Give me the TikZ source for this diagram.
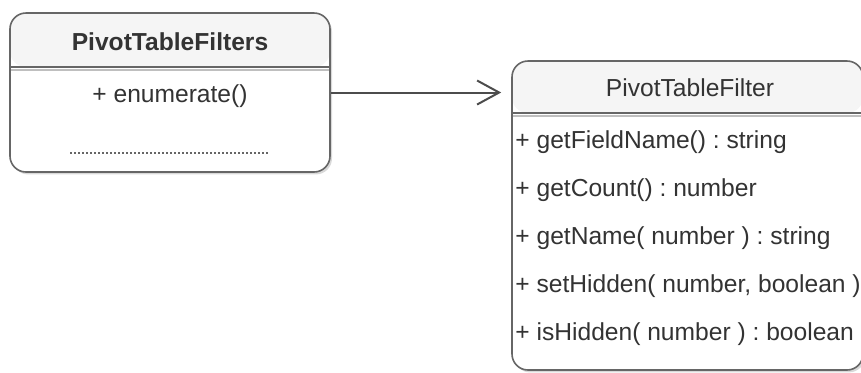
\documentclass[tikz,border=0pt]{standalone}
\usepackage{fontspec}
\setmainfont{Liberation Sans}
\usetikzlibrary{arrows.meta, positioning, shadows}
\definecolor{umlline}{HTML}{666666}
\definecolor{umlhead}{HTML}{F5F5F5}
\definecolor{umltext}{HTML}{333333}
\frenchspacing
\begin{document}
\begin{tikzpicture}[
  x=0.5pt, y=-0.5pt,
  every node/.style={font=\fontsize{12.3}{15}\selectfont, text=umltext},
  classbox/.style={rectangle, rounded corners=8pt, draw=umlline, line width=0.8pt, fill=white, inner sep=0pt,
    drop shadow={shadow xshift=1pt, shadow yshift=-1.2pt, opacity=0.3}},
  header/.style={path picture={
    \fill[umlhead] (path picture bounding box.north west) rectangle ([yshift=-#1]path picture bounding box.north east);
    \draw[black!25, line width=1.2pt] ([yshift=-#1-1.6pt]path picture bounding box.north west) -- ([yshift=-#1-1.6pt]path picture bounding box.north east);
    \draw[umlline, line width=0.9pt] ([yshift=-#1]path picture bounding box.north west) -- ([yshift=-#1]path picture bounding box.north east);}},
  member/.style={anchor=west, inner sep=0pt},
  assoc/.style={draw=black!70, line width=1pt, -{Straight Barb[length=11pt, width=12pt]}}
]
\useasboundingbox (0,0) rectangle (861,372);

% Klasse PivotTableFilters
\node[classbox, header=27pt, minimum width=160pt, minimum height=79.5pt] (filters) at (170,92.5) {};
\node[font=\fontsize{12.3}{15}\selectfont\bfseries] (filtersname) at (170,42) {PivotTableFilters};
\node (enum) at (170,96) {+ enumerate()};
\draw[black!60, line width=0.6pt, dash pattern=on 0.8pt off 1.2pt] (70,153) -- (268,153);

% Klasse PivotTableFilter
\node[classbox, header=26pt, minimum width=175.5pt, minimum height=154.5pt] (filter) at (687.5,215.5) {};
\node (filtername) at (690,88) {PivotTableFilter};
\foreach \m [count=\i] in {{+ getFieldName() : string}, {+ getCount() : number}, {+ getName( number ) : string},
    {+ setHidden( number, boolean )}, {+ isHidden( number ) : boolean}} {
  \node[member] (m\i) at (515,94+48*\i) {\m};
}

% Verbindung
\draw[assoc, shorten >=5pt] (filters.east) -- (filters.east -| filter.west);
\end{tikzpicture}
\end{document}
